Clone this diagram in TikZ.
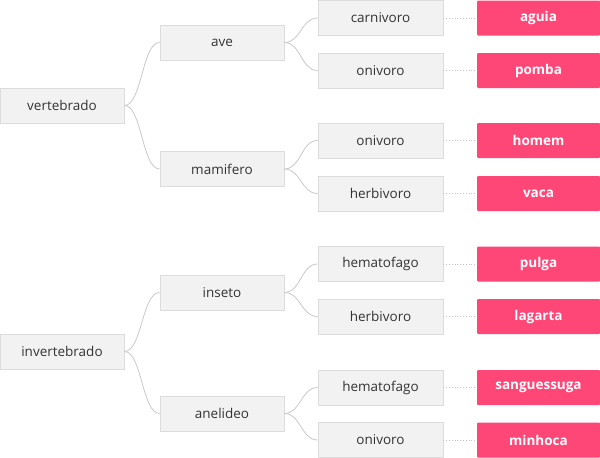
\documentclass[tikz,border=0pt]{standalone}
\usepackage{fontspec}
\setmainfont{Open Sans}
\usetikzlibrary{calc}
\definecolor{boxfill}{HTML}{F2F2F2}
\definecolor{boxline}{HTML}{DCDCDC}
\definecolor{pinkfill}{HTML}{FF4777}
\definecolor{linkcol}{HTML}{C8C8C8}
\definecolor{dotcol}{HTML}{C4C4C4}
\definecolor{txt}{HTML}{333333}
\begin{document}
\begin{tikzpicture}[x=1pt,y=-1pt,
  graybox/.style={draw=boxline,fill=boxfill,line width=0.8pt,minimum height=35pt,inner sep=0pt,
    font=\fontsize{13.5}{15}\selectfont,text=txt},
  w124/.style={minimum width=124pt},
  w125/.style={minimum width=125pt},
  pinkbox/.style={fill=pinkfill,minimum width=123pt,minimum height=35pt,inner sep=0pt,rounded corners=1pt,
    font=\fontsize{13.5}{15}\selectfont\bfseries,text=white},
  link/.style={draw=linkcol,line width=0.8pt,
    to path={let \p1=(\tikztostart),\p2=(\tikztotarget) in
      .. controls ({(\x1+\x2)/2},\y1) and ({(\x1+\x2)/2},\y2) .. (\tikztotarget)}},
  dotlink/.style={draw=dotcol,line width=0.8pt,dotted}]
\useasboundingbox (0,0) rectangle (600,458);
% level 0
\node[graybox,w124] (vert) at (62,105.5) {vertebrado};
\node[graybox,w124] (invert) at (62,351.5) {invertebrado};
% level 1
\node[graybox,w124] (ave) at (222,42.5) {ave};
\node[graybox,w124] (mami) at (222,169) {mamifero};
\node[graybox,w124] (inse) at (222,292.5) {inseto};
\node[graybox,w124] (anel) at (222,413.5) {anelideo};
% level 2
\node[graybox,w125] (c1) at (380.5,18) {carnivoro};
\node[graybox,w125] (c2) at (380.5,70.5) {onivoro};
\node[graybox,w125] (c3) at (380.5,140.5) {onivoro};
\node[graybox,w125] (c4) at (380.5,193.5) {herbivoro};
\node[graybox,w125] (c5) at (380.5,264) {hematofago};
\node[graybox,w125] (c6) at (380.5,316.5) {herbivoro};
\node[graybox,w125] (c7) at (380.5,387.5) {hematofago};
\node[graybox,w125] (c8) at (380.5,440) {onivoro};
% level 3
\node[pinkbox] (p1) at (538.5,18) {aguia};
\node[pinkbox] (p2) at (538.5,70.5) {pomba};
\node[pinkbox] (p3) at (538.5,140.5) {homem};
\node[pinkbox] (p4) at (538.5,193.5) {vaca};
\node[pinkbox] (p5) at (538.5,264) {pulga};
\node[pinkbox] (p6) at (538.5,316.5) {lagarta};
\node[pinkbox] (p7) at (538.5,387.5) {sanguessuga};
\node[pinkbox] (p8) at (538.5,440) {minhoca};
% links
\draw[link] (vert.east) to (ave.west);
\draw[link] (vert.east) to (mami.west);
\draw[link] (invert.east) to (inse.west);
\draw[link] (invert.east) to (anel.west);
\draw[link] (ave.east) to (c1.west);
\draw[link] (ave.east) to (c2.west);
\draw[link] (mami.east) to (c3.west);
\draw[link] (mami.east) to (c4.west);
\draw[link] (inse.east) to (c5.west);
\draw[link] (inse.east) to (c6.west);
\draw[link] (anel.east) to (c7.west);
\draw[link] (anel.east) to (c8.west);
\foreach \i in {1,...,8}{\draw[dotlink] (c\i.east) -- (p\i.west);}
\end{tikzpicture}
\end{document}
